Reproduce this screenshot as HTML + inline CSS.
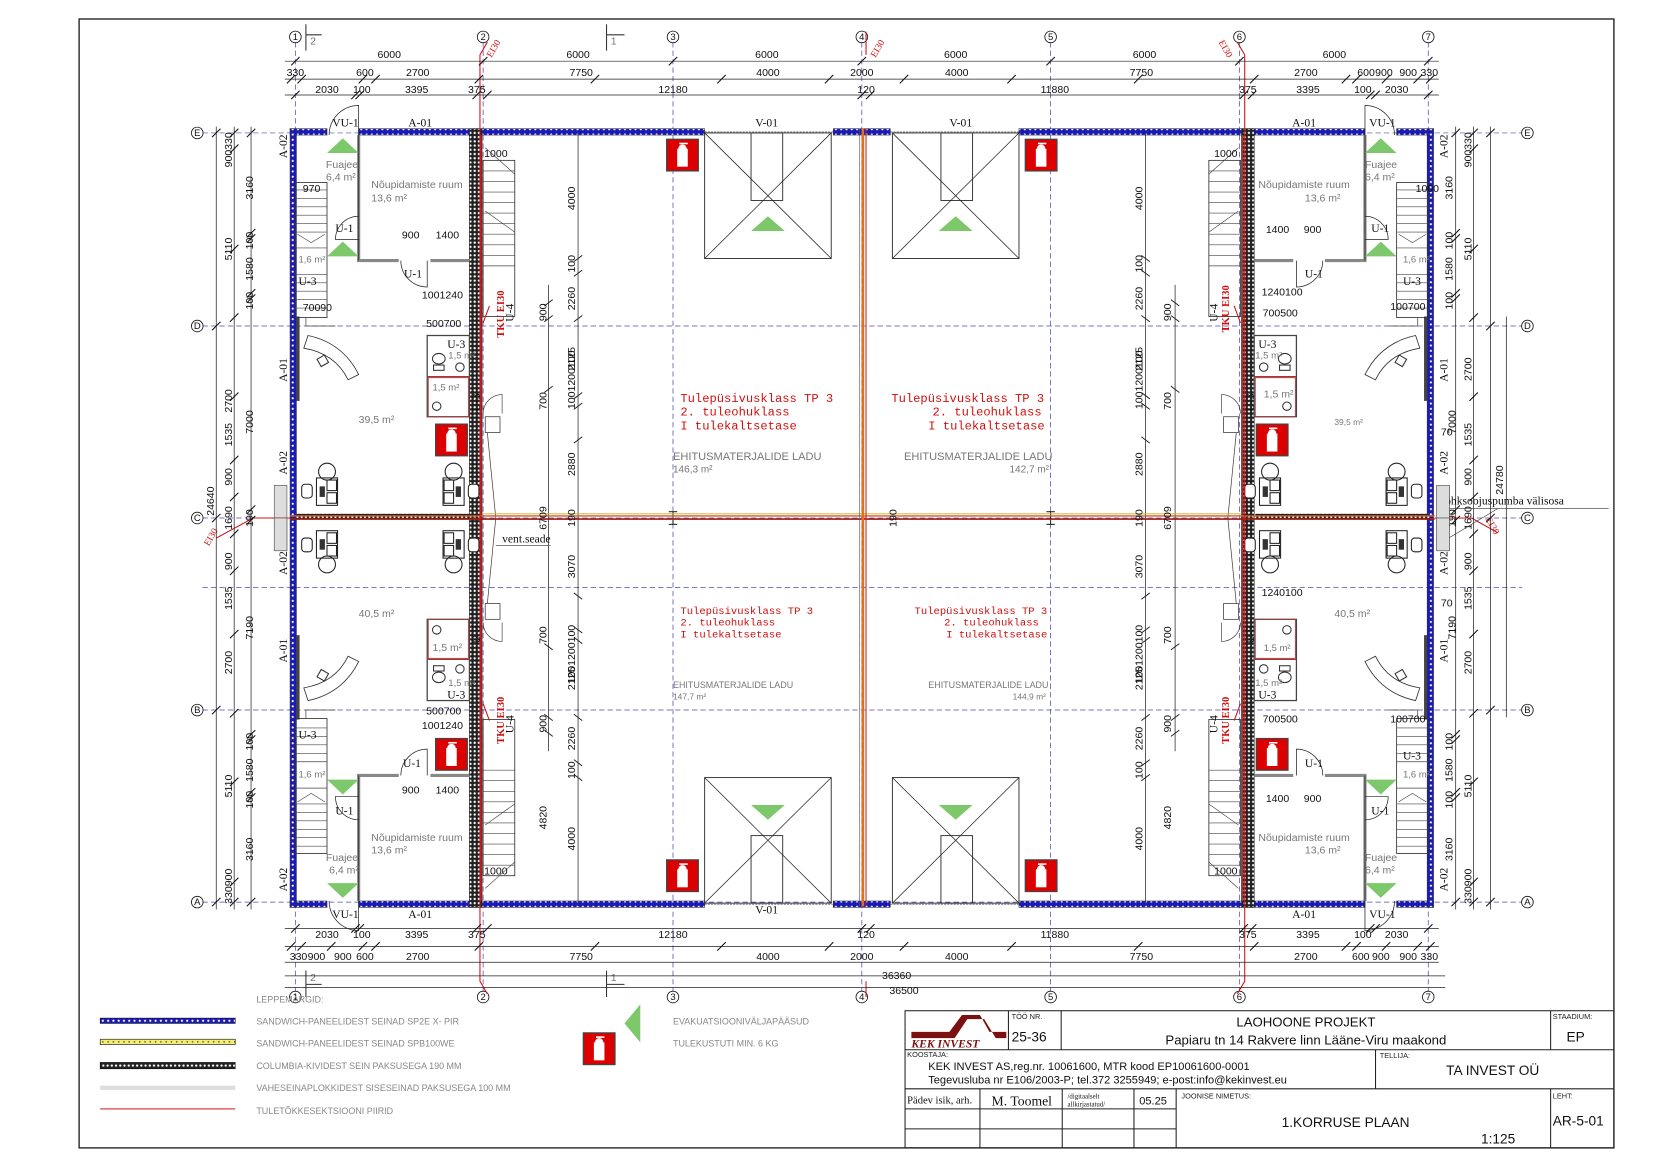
<!DOCTYPE html>
<html><head><meta charset="utf-8"><style>
html,body{margin:0;padding:0;background:#fff;}
svg{display:block;font-family:"Liberation Sans",sans-serif;}
.d{font-size:10px;fill:#111;}
.g{font-size:10px;fill:#777;}
.s,.s text{font-family:"Liberation Serif",serif;font-size:11px;fill:#111;}
.r,.r text{font-family:"Liberation Mono",monospace;font-size:11.5px;fill:#d01010;}
.rs,.rs text{font-family:"Liberation Mono",monospace;font-size:10px;fill:#d01010;}
.lg{font-size:8.5px;fill:#888;}
</style></head><body>
<svg width="1654" height="1169" viewBox="0 0 1568 1108" preserveAspectRatio="none" xmlns="http://www.w3.org/2000/svg">
<defs>
<pattern id="bl" width="5" height="5" patternUnits="userSpaceOnUse"><rect width="5" height="5" fill="#1a1ab8"/><circle cx="2.5" cy="2.5" r="1" fill="#fff"/></pattern>
<pattern id="co" width="4" height="4" patternUnits="userSpaceOnUse"><rect width="4" height="4" fill="#222"/><circle cx="2" cy="2" r="1.1" fill="#fff"/></pattern>
<pattern id="ye" width="5" height="5" patternUnits="userSpaceOnUse"><rect width="5" height="5" fill="#f4ef70"/><circle cx="2.5" cy="2.5" r="0.8" fill="#555"/></pattern>
<g id="ext"><rect x="0" y="0" width="30" height="30" fill="#d00" stroke="#444" stroke-width="1.2"/><rect x="10" y="9" width="10" height="17" fill="#fff"/><circle cx="15" cy="9" r="4" fill="#fff"/><path d="M12 4 h8" stroke="#fff" stroke-width="1.5"/></g>
<g id="desk"><rect x="0" y="0" width="20" height="26" fill="#fff" stroke="#222"/><rect x="10" y="2" width="9" height="10" fill="#fff" stroke="#222"/><rect x="10" y="14" width="9" height="10" fill="#fff" stroke="#222"/><rect x="3" y="8" width="5" height="10" fill="#333"/><rect x="-14" y="6" width="10" height="13" rx="3" fill="#fff" stroke="#222"/><circle cx="10" cy="-6" r="8" fill="none" stroke="#222"/></g>

<g id="q">
 <rect x="275" y="122" width="35" height="6" fill="url(#bl)" stroke="#333" stroke-width="0.6"/>
 <rect x="340" y="122" width="328" height="6" fill="url(#bl)" stroke="#333" stroke-width="0.6"/>
 <rect x="790" y="122" width="27" height="6" fill="url(#bl)" stroke="#333" stroke-width="0.6"/>
 <line x1="668" y1="125" x2="790" y2="125" stroke="#333" stroke-width="0.6" stroke-dasharray="2,1"/>
 <rect x="275" y="122" width="6" height="369" fill="url(#bl)" stroke="#333" stroke-width="0.6"/>
 <rect x="281" y="300" width="3" height="80" fill="#444"/>
 <rect x="260" y="460" width="12" height="31" fill="#ddd" stroke="#555" stroke-width="0.6"/>
 <rect x="445" y="122" width="12" height="369" fill="url(#co)" stroke="#222" stroke-width="0.6"/>
 <line x1="456" y1="128" x2="456" y2="491" stroke="#c22" stroke-width="1.2"/>
 <path d="M340 128 V247 H378 M408 247 H445" fill="none" stroke="#888" stroke-width="3"/>
 <path d="M340 128 V247" fill="none" stroke="#333" stroke-width="0.8"/>
 <path d="M312 128 A28 28 0 0 1 340 100 V128" fill="none" stroke="#222" stroke-width="0.7"/>
 <path d="M340 205 A22 22 0 0 0 318 227 H340" fill="none" stroke="#222" stroke-width="0.7"/>
 <path d="M380 247 A25 25 0 0 0 405 272 V247" fill="none" stroke="#222" stroke-width="0.7"/>
 <rect x="280" y="173" width="30" height="128" fill="none" stroke="#333" stroke-width="0.8"/>
 <g stroke="#444" stroke-width="0.6" fill="none">
  <line x1="280" y1="180" x2="310" y2="180"/><line x1="280" y1="188" x2="310" y2="188"/><line x1="280" y1="196" x2="310" y2="196"/><line x1="280" y1="204" x2="310" y2="204"/><line x1="280" y1="212" x2="310" y2="212"/><line x1="280" y1="220" x2="310" y2="220"/><line x1="280" y1="235" x2="310" y2="235"/><line x1="280" y1="260" x2="310" y2="260"/><line x1="280" y1="268" x2="310" y2="268"/><line x1="280" y1="276" x2="310" y2="276"/><line x1="280" y1="284" x2="310" y2="284"/><line x1="280" y1="292" x2="310" y2="292"/>
  <path d="M282 222 L295 230 L308 222"/>
 </g>
 <rect x="458" y="152" width="30" height="148" fill="none" stroke="#333" stroke-width="0.8"/>
 <g stroke="#444" stroke-width="0.6" fill="none">
  <line x1="458" y1="162" x2="488" y2="162"/><line x1="458" y1="172" x2="488" y2="172"/><line x1="458" y1="182" x2="488" y2="182"/><line x1="458" y1="192" x2="488" y2="192"/><line x1="458" y1="202" x2="488" y2="202"/><line x1="458" y1="212" x2="488" y2="212"/><line x1="458" y1="222" x2="488" y2="222"/><line x1="458" y1="232" x2="488" y2="232"/><line x1="458" y1="242" x2="488" y2="242"/><line x1="458" y1="252" x2="488" y2="252"/>
  <path d="M460 140 L488 165 M460 200 L488 220"/>
 </g>
 <polygon points="325,131 310,145 340,145" fill="#7cc86a"/>
 <polygon points="325,229 310,243 340,243" fill="#7cc86a"/>
 <polygon points="728,205 712,219 744,219" fill="#7cc86a"/>
 <rect x="405" y="318" width="40" height="77" fill="none" stroke="#444" stroke-width="1.2"/>
 <line x1="405" y1="357" x2="445" y2="357" stroke="#a33" stroke-width="1.2"/>
 <rect x="406" y="358" width="38" height="37" fill="none" stroke="#a33" stroke-width="0.8"/>
 <ellipse cx="416" cy="340" rx="6" ry="5" fill="none" stroke="#333"/>
 <rect x="411" y="346" width="10" height="5" fill="none" stroke="#333"/>
 <circle cx="436" cy="348" r="4" fill="none" stroke="#333"/>
 <circle cx="414" cy="385" r="4" fill="none" stroke="#333"/>
 <path d="M458 392 A18 18 0 0 1 476 374 V392" fill="none" stroke="#333" stroke-width="0.6"/>
 <rect x="460" y="395" width="14" height="15" fill="#fff" stroke="#333" stroke-width="0.7"/>
 <path d="M292 318 Q325 325 340 355 L330 360 Q318 335 288 330 Z" fill="#fff" stroke="#333" stroke-width="0.8"/>
 <rect x="302" y="338" width="8" height="8" fill="#fff" stroke="#333" transform="rotate(-30 306 342)"/>
 <use href="#desk" x="300" y="453"/>
 <use href="#desk" transform="translate(440,453) scale(-1,1)"/>
 <line x1="462" y1="410" x2="470" y2="491" stroke="#444" stroke-width="0.7"/>
 <rect x="668" y="126" width="120" height="119" fill="none" stroke="#333" stroke-width="0.9"/>
 <rect x="712" y="126" width="30" height="64" fill="none" stroke="#333" stroke-width="0.9"/>
 <path d="M668 126 L788 245 M788 126 L668 245" stroke="#222" stroke-width="0.7"/>
 <line x1="548" y1="126" x2="548" y2="491" stroke="#222" stroke-width="0.7"/>
 <line x1="520" y1="270" x2="520" y2="491" stroke="#222" stroke-width="0.7"/>
 <g stroke="#222" stroke-width="0.9">
  <path d="M544 248 l8 -6 M544 262 l8 -6 M544 305 l8 -6 M544 378 l8 -6 M544 388 l8 -6 M544 420 l8 -6 M516 305 l8 -6 M516 372 l8 -6 M516 290 l8 -6"/>
 </g>
 <line x1="638" y1="491" x2="638" y2="497" stroke="#222"/><line x1="634" y1="497" x2="642" y2="497" stroke="#222"/>
 <path d="M290 301 V309 H318" fill="none" stroke="#444" stroke-width="0.7"/>
</g>
</defs>

<rect x="75" y="18" width="1455" height="1070" fill="none" stroke="#222" stroke-width="1.3"/>

<g stroke="#4a4ab8" stroke-width="0.7" stroke-dasharray="5,3" fill="none">
 <line x1="280" y1="40" x2="280" y2="940"/><line x1="458" y1="40" x2="458" y2="940"/><line x1="638" y1="40" x2="638" y2="940"/><line x1="817" y1="40" x2="817" y2="940"/><line x1="996" y1="40" x2="996" y2="940"/><line x1="1175" y1="40" x2="1175" y2="940"/><line x1="1354" y1="40" x2="1354" y2="940"/>
 <line x1="192" y1="126" x2="1443" y2="126"/><line x1="192" y1="309" x2="1443" y2="309"/><line x1="192" y1="491" x2="1443" y2="491"/><line x1="192" y1="673" x2="1443" y2="673"/><line x1="192" y1="855" x2="1443" y2="855"/>
 <line x1="192" y1="557" x2="1443" y2="557"/>
</g>
<g font-size="9" fill="#111" text-anchor="middle" stroke-width="0.8">
 <g fill="#fff" stroke="#111">
  <circle cx="280" cy="35" r="5.5"/><circle cx="458" cy="35" r="5.5"/><circle cx="638" cy="35" r="5.5"/><circle cx="817" cy="35" r="5.5"/><circle cx="996" cy="35" r="5.5"/><circle cx="1175" cy="35" r="5.5"/><circle cx="1354" cy="35" r="5.5"/>
  <circle cx="280" cy="945" r="5.5"/><circle cx="458" cy="945" r="5.5"/><circle cx="638" cy="945" r="5.5"/><circle cx="817" cy="945" r="5.5"/><circle cx="996" cy="945" r="5.5"/><circle cx="1175" cy="945" r="5.5"/><circle cx="1354" cy="945" r="5.5"/>
  <circle cx="187" cy="126" r="5.5"/><circle cx="187" cy="309" r="5.5"/><circle cx="187" cy="491" r="5.5"/><circle cx="187" cy="673" r="5.5"/><circle cx="187" cy="855" r="5.5"/>
  <circle cx="1448" cy="126" r="5.5"/><circle cx="1448" cy="309" r="5.5"/><circle cx="1448" cy="491" r="5.5"/><circle cx="1448" cy="673" r="5.5"/><circle cx="1448" cy="855" r="5.5"/>
 </g>
 <text x="280" y="38">1</text><text x="458" y="38">2</text><text x="638" y="38">3</text><text x="817" y="38">4</text><text x="996" y="38">5</text><text x="1175" y="38">6</text><text x="1354" y="38">7</text>
 <text x="280" y="948">1</text><text x="458" y="948">2</text><text x="638" y="948">3</text><text x="817" y="948">4</text><text x="996" y="948">5</text><text x="1175" y="948">6</text><text x="1354" y="948">7</text>
 <text x="187" y="129">E</text><text x="187" y="312">D</text><text x="187" y="494">C</text><text x="187" y="676">B</text><text x="187" y="858">A</text>
 <text x="1448" y="129">E</text><text x="1448" y="312">D</text><text x="1448" y="494">C</text><text x="1448" y="676">B</text><text x="1448" y="858">A</text>
</g>
<path d="M290 23 V48 M290 33 H305" stroke="#333" fill="none"/><text x="294" y="42" class="g" font-size="9">2</text>
<path d="M575 23 V48 M575 33 H592" stroke="#333" fill="none"/><text x="579" y="42" class="g" font-size="9">1</text>
<path d="M290 920 V945 M290 933 H305" stroke="#333" fill="none"/><text x="294" y="930" class="g" font-size="9">2</text>
<path d="M575 920 V945 M575 933 H592" stroke="#333" fill="none"/><text x="579" y="930" class="g" font-size="9">1</text>

<use href="#q"/>
<use href="#q" transform="translate(1634,0) scale(-1,1)"/>
<use href="#q" transform="translate(0,982) scale(1,-1)"/>
<use href="#q" transform="translate(1634,982) scale(-1,-1)"/>

<use href="#ext" x="413" y="402"/><use href="#ext" x="632" y="132"/><use href="#ext" x="972" y="132"/><use href="#ext" x="1191" y="402"/>
<use href="#ext" x="413" y="700"/><use href="#ext" x="632" y="815"/><use href="#ext" x="972" y="815"/><use href="#ext" x="1191" y="700"/>

<rect x="281" y="487" width="164" height="5" fill="url(#co)"/>
<rect x="1190" y="487" width="165" height="5" fill="url(#co)"/>
<line x1="275" y1="489" x2="1360" y2="489" stroke="#d06020" stroke-width="1.3"/>
<line x1="275" y1="492" x2="1360" y2="492" stroke="#a01818" stroke-width="1.5"/>
<line x1="458" y1="487" x2="1177" y2="487" stroke="#c8b030" stroke-width="0.8"/>
<line x1="818" y1="122" x2="818" y2="859" stroke="#e07020" stroke-width="2.5"/>
<line x1="821" y1="122" x2="821" y2="859" stroke="#c22" stroke-width="1"/>
<line x1="815" y1="122" x2="815" y2="859" stroke="#555" stroke-width="0.6"/>

<g stroke="#d01010" stroke-width="1" fill="none">
 <path d="M455 52 L462 40 M455 52 V930 L462 942"/>
 <path d="M1180 52 L1173 40 M1180 52 V930 L1173 942"/>
 <path d="M821 30 V52 M821 930 V945"/>
 <path d="M205 510 L240 491 H275 M1360 491 H1395 L1420 505"/>
 <path d="M464 290 L458 306 M464 683 L458 667 M1170 290 L1176 306 M1170 683 L1176 667"/>
</g>
<g fill="#d01010" font-family="Liberation Serif,serif" font-size="9">
 <text transform="translate(466,55) rotate(-60)">EI30</text>
 <text transform="translate(830,55) rotate(-60)">EI30</text>
 <text transform="translate(1155,40) rotate(60)">EI30</text>
 <text transform="translate(198,518) rotate(-60)">EI30</text>
 <text transform="translate(1408,492) rotate(60)">EI30</text>
</g>

<g stroke="#222" stroke-width="0.7">
 <line x1="270" y1="58" x2="1364" y2="58"/>
 <line x1="270" y1="75" x2="1364" y2="75"/>
 <line x1="270" y1="90" x2="1364" y2="90"/>
 <line x1="270" y1="880" x2="1364" y2="880"/>
 <line x1="270" y1="897" x2="1364" y2="897"/>
 <line x1="270" y1="912" x2="1364" y2="912"/>
 <line x1="270" y1="925" x2="1370" y2="925"/>
 <line x1="270" y1="936" x2="1370" y2="936"/>
 <line x1="205" y1="120" x2="205" y2="862"/>
 <line x1="222" y1="120" x2="222" y2="862"/>
 <line x1="238" y1="120" x2="238" y2="862"/>
 <line x1="1380" y1="120" x2="1380" y2="862"/>
 <line x1="1397" y1="120" x2="1397" y2="862"/>
 <line x1="1413" y1="120" x2="1413" y2="862"/>
 <line x1="1428" y1="300" x2="1428" y2="680"/>
</g>
<g stroke="#111" stroke-width="1">
 <path d="M276 62 l8 -8 M454 62 l8 -8 M634 62 l8 -8 M813 62 l8 -8 M992 62 l8 -8 M1171 62 l8 -8 M1350 62 l8 -8"/>
 <path d="M272 79 l8 -8 M282 79 l8 -8 M340 79 l8 -8 M352 79 l8 -8 M450 79 l8 -8 M560 79 l8 -8 M680 79 l8 -8 M782 79 l8 -8 M853 79 l8 -8 M955 79 l8 -8 M1075 79 l8 -8 M1185 79 l8 -8 M1272 79 l8 -8 M1282 79 l8 -8 M1310 79 l8 -8 M1340 79 l8 -8 M1352 79 l8 -8"/>
 <path d="M276 94 l8 -8 M333 94 l8 -8 M337 94 l8 -8 M448 94 l8 -8 M458 94 l8 -8 M813 94 l8 -8 M821 94 l8 -8 M1175 94 l8 -8 M1183 94 l8 -8 M1295 94 l8 -8 M1300 94 l8 -8 M1350 94 l8 -8"/>
 <path d="M276 884 l8 -8 M333 884 l8 -8 M337 884 l8 -8 M448 884 l8 -8 M458 884 l8 -8 M813 884 l8 -8 M821 884 l8 -8 M1175 884 l8 -8 M1183 884 l8 -8 M1295 884 l8 -8 M1300 884 l8 -8 M1350 884 l8 -8"/>
 <path d="M272 901 l8 -8 M282 901 l8 -8 M310 901 l8 -8 M340 901 l8 -8 M352 901 l8 -8 M450 901 l8 -8 M560 901 l8 -8 M680 901 l8 -8 M782 901 l8 -8 M853 901 l8 -8 M955 901 l8 -8 M1075 901 l8 -8 M1185 901 l8 -8 M1272 901 l8 -8 M1282 901 l8 -8 M1310 901 l8 -8 M1340 901 l8 -8 M1352 901 l8 -8"/>
 <path d="M201 130 l8 -8 M201 313 l8 -8 M201 495 l8 -8 M201 677 l8 -8 M201 859 l8 -8"/>
 <path d="M218 130 l8 -8 M218 145 l8 -8 M218 240 l8 -8 M218 305 l8 -8 M218 380 l8 -8 M218 440 l8 -8 M218 475 l8 -8 M218 510 l8 -8 M218 545 l8 -8 M218 605 l8 -8 M218 680 l8 -8 M218 745 l8 -8 M218 840 l8 -8 M218 859 l8 -8"/>
 <path d="M234 130 l8 -8 M234 225 l8 -8 M234 230 l8 -8 M234 282 l8 -8 M234 287 l8 -8 M234 487 l8 -8 M234 497 l8 -8 M234 700 l8 -8 M234 705 l8 -8 M234 755 l8 -8 M234 760 l8 -8 M234 859 l8 -8"/>
 <path d="M1376 130 l8 -8 M1376 225 l8 -8 M1376 230 l8 -8 M1376 282 l8 -8 M1376 287 l8 -8 M1376 487 l8 -8 M1376 497 l8 -8 M1376 700 l8 -8 M1376 705 l8 -8 M1376 755 l8 -8 M1376 760 l8 -8 M1376 859 l8 -8"/>
 <path d="M1393 130 l8 -8 M1393 145 l8 -8 M1393 240 l8 -8 M1393 305 l8 -8 M1393 380 l8 -8 M1393 440 l8 -8 M1393 475 l8 -8 M1393 510 l8 -8 M1393 545 l8 -8 M1393 605 l8 -8 M1393 680 l8 -8 M1393 745 l8 -8 M1393 840 l8 -8 M1393 859 l8 -8"/>
 <path d="M1409 130 l8 -8 M1409 313 l8 -8 M1409 495 l8 -8 M1409 677 l8 -8 M1409 859 l8 -8"/>
</g>

<g class="d" text-anchor="middle">
 <text x="369" y="55">6000</text><text x="548" y="55">6000</text><text x="727" y="55">6000</text><text x="906" y="55">6000</text><text x="1085" y="55">6000</text><text x="1265" y="55">6000</text>
 <text x="280" y="72">330</text><text x="346" y="72">600</text><text x="396" y="72">2700</text><text x="551" y="72">7750</text><text x="728" y="72">4000</text><text x="817" y="72">2000</text><text x="907" y="72">4000</text><text x="1082" y="72">7750</text><text x="1238" y="72">2700</text><text x="1295" y="72">600</text><text x="1312" y="72">900</text><text x="1335" y="72">900</text><text x="1355" y="72">330</text>
 <text x="310" y="88">2030</text><text x="343" y="88">100</text><text x="395" y="88">3395</text><text x="452" y="88">375</text><text x="638" y="88">12180</text><text x="821" y="88">120</text><text x="1000" y="88">11880</text><text x="1183" y="88">375</text><text x="1240" y="88">3395</text><text x="1292" y="88">100</text><text x="1324" y="88">2030</text>
 <text x="310" y="889">2030</text><text x="343" y="889">100</text><text x="395" y="889">3395</text><text x="452" y="889">375</text><text x="638" y="889">12180</text><text x="821" y="889">120</text><text x="1000" y="889">11880</text><text x="1183" y="889">375</text><text x="1240" y="889">3395</text><text x="1292" y="889">100</text><text x="1324" y="889">2030</text>
 <text x="283" y="910">330</text><text x="300" y="910">900</text><text x="325" y="910">900</text><text x="346" y="910">600</text><text x="396" y="910">2700</text><text x="551" y="910">7750</text><text x="728" y="910">4000</text><text x="817" y="910">2000</text><text x="907" y="910">4000</text><text x="1082" y="910">7750</text><text x="1238" y="910">2700</text><text x="1290" y="910">600</text><text x="1309" y="910">900</text><text x="1335" y="910">900</text><text x="1355" y="910">330</text>
 <text x="850" y="928">36360</text><text x="857" y="942">36500</text>
</g>
<g class="d" text-anchor="middle">
 <text transform="translate(220,236) rotate(-90)">5110</text>
 <text transform="translate(220,380) rotate(-90)">2700</text>
 <text transform="translate(220,412) rotate(-90)">1535</text>
 <text transform="translate(220,452) rotate(-90)">900</text>
 <text transform="translate(220,491) rotate(-90)">1690</text>
 <text transform="translate(220,532) rotate(-90)">900</text>
 <text transform="translate(220,567) rotate(-90)">1535</text>
 <text transform="translate(220,628) rotate(-90)">2700</text>
 <text transform="translate(220,745) rotate(-90)">5110</text>
 <text transform="translate(220,142) rotate(-90)">900330</text>
 <text transform="translate(220,840) rotate(-90)">330900</text>
 <text transform="translate(240,178) rotate(-90)">3160</text>
 <text transform="translate(240,228) rotate(-90)">100</text>
 <text transform="translate(240,255) rotate(-90)">1580</text>
 <text transform="translate(240,285) rotate(-90)">100</text>
 <text transform="translate(240,400) rotate(-90)">7000</text>
 <text transform="translate(240,491) rotate(-90)">190</text>
 <text transform="translate(240,595) rotate(-90)">7190</text>
 <text transform="translate(240,703) rotate(-90)">100</text>
 <text transform="translate(240,730) rotate(-90)">1580</text>
 <text transform="translate(240,758) rotate(-90)">100</text>
 <text transform="translate(240,805) rotate(-90)">3160</text>
 <text transform="translate(203,475) rotate(-90)">24640</text>
 <text transform="translate(1377,178) rotate(-90)">3160</text>
 <text transform="translate(1377,228) rotate(-90)">100</text>
 <text transform="translate(1377,255) rotate(-90)">1580</text>
 <text transform="translate(1377,285) rotate(-90)">100</text>
 <text transform="translate(1380,400) rotate(-90)">7000</text>
 <text transform="translate(1380,491) rotate(-90)">190</text>
 <text transform="translate(1380,595) rotate(-90)">7190</text>
 <text transform="translate(1377,703) rotate(-90)">100</text>
 <text transform="translate(1377,730) rotate(-90)">1580</text>
 <text transform="translate(1377,758) rotate(-90)">100</text>
 <text transform="translate(1377,805) rotate(-90)">3160</text>
 <text transform="translate(1395,142) rotate(-90)">900330</text>
 <text transform="translate(1395,236) rotate(-90)">5110</text>
 <text transform="translate(1395,350) rotate(-90)">2700</text>
 <text transform="translate(1395,412) rotate(-90)">1535</text>
 <text transform="translate(1395,452) rotate(-90)">900</text>
 <text transform="translate(1395,491) rotate(-90)">1690</text>
 <text transform="translate(1395,532) rotate(-90)">900</text>
 <text transform="translate(1395,567) rotate(-90)">1535</text>
 <text transform="translate(1395,628) rotate(-90)">2700</text>
 <text transform="translate(1395,745) rotate(-90)">5110</text>
 <text transform="translate(1395,840) rotate(-90)">330900</text>
 <text transform="translate(1425,455) rotate(-90)">24780</text>
</g>
<g class="d" text-anchor="middle">
 <text transform="translate(545,188) rotate(-90)">4000</text><text transform="translate(545,250) rotate(-90)">100</text><text transform="translate(545,283) rotate(-90)">2260</text><text transform="translate(518,296) rotate(-90)">900</text><text transform="translate(545,340) rotate(-90)">2125</text><text transform="translate(545,360) rotate(-90)">1001200100</text><text transform="translate(518,380) rotate(-90)">700</text><text transform="translate(545,440) rotate(-90)">2880</text><text transform="translate(545,491) rotate(-90)">190</text><text transform="translate(518,491) rotate(-90)">6709</text>
 <text transform="translate(545,537) rotate(-90)">3070</text><text transform="translate(545,620) rotate(-90)">1001200100</text><text transform="translate(518,602) rotate(-90)">700</text><text transform="translate(545,643) rotate(-90)">2125</text><text transform="translate(518,686) rotate(-90)">900</text><text transform="translate(545,700) rotate(-90)">2260</text><text transform="translate(545,730) rotate(-90)">100</text><text transform="translate(545,795) rotate(-90)">4000</text><text transform="translate(518,775) rotate(-90)">4820</text>
 <text transform="translate(1083,188) rotate(-90)">4000</text><text transform="translate(1083,250) rotate(-90)">100</text><text transform="translate(1083,283) rotate(-90)">2260</text><text transform="translate(1110,296) rotate(-90)">900</text><text transform="translate(1083,340) rotate(-90)">2125</text><text transform="translate(1083,360) rotate(-90)">1001200100</text><text transform="translate(1110,380) rotate(-90)">700</text><text transform="translate(1083,440) rotate(-90)">2880</text><text transform="translate(1083,491) rotate(-90)">190</text><text transform="translate(1110,491) rotate(-90)">6709</text>
 <text transform="translate(1083,537) rotate(-90)">3070</text><text transform="translate(1083,620) rotate(-90)">1001200100</text><text transform="translate(1110,602) rotate(-90)">700</text><text transform="translate(1083,643) rotate(-90)">2125</text><text transform="translate(1110,686) rotate(-90)">900</text><text transform="translate(1083,700) rotate(-90)">2260</text><text transform="translate(1083,730) rotate(-90)">100</text><text transform="translate(1083,795) rotate(-90)">4000</text><text transform="translate(1110,775) rotate(-90)">4820</text>
 <text transform="translate(850,491) rotate(-90)">190</text>
</g>

<g class="s">
 <text x="315" y="120">VU-1</text><text x="387" y="120">A-01</text><text x="716" y="120">V-01</text><text x="900" y="120">V-01</text><text x="1225" y="120">A-01</text><text x="1298" y="120">VU-1</text>
 <text x="315" y="870">VU-1</text><text x="387" y="870">A-01</text><text x="716" y="866">V-01</text><text x="1225" y="870">A-01</text><text x="1298" y="870">VU-1</text>
 <text x="318" y="220">U-1</text><text x="383" y="263">U-1</text><text x="1300" y="220">U-1</text><text x="1237" y="263">U-1</text>
 <text x="382" y="727">U-1</text><text x="318" y="772">U-1</text><text x="1237" y="727">U-1</text><text x="1300" y="772">U-1</text>
 <text x="283" y="270" font-size="10">U-3</text><text x="1330" y="270" font-size="10">U-3</text><text x="283" y="700" font-size="10">U-3</text><text x="1330" y="720" font-size="10">U-3</text>
 <text x="424" y="330" font-size="10">U-3</text><text x="1193" y="330" font-size="10">U-3</text><text x="424" y="662" font-size="10">U-3</text><text x="1193" y="662" font-size="10">U-3</text>
 <text x="476" y="514" font-size="10">vent.seade</text>
 <text x="1370" y="478" font-size="9" fill="#555">õhksoojuspumba välisosa</text>
</g>
<line x1="470" y1="517" x2="522" y2="517" stroke="#333" stroke-width="0.6"/>
<line x1="1368" y1="482" x2="1525" y2="482" stroke="#333" stroke-width="0.6"/>
<path d="M1368 482 L1365 470 M1420 482 L1365 515" stroke="#333" stroke-width="0.6" fill="none"/>
<rect x="1362" y="460" width="12" height="31" fill="#ddd" stroke="#555" stroke-width="0.6"/>
<rect x="1362" y="491" width="12" height="31" fill="#ddd" stroke="#555" stroke-width="0.6"/>
<rect x="260" y="491" width="12" height="31" fill="#ddd" stroke="#555" stroke-width="0.6"/>

<g class="s">
 <text transform="translate(272,150) rotate(-90)" font-size="10">A-02</text><text transform="translate(272,362) rotate(-90)" font-size="10">A-01</text><text transform="translate(272,450) rotate(-90)" font-size="10">A-02</text><text transform="translate(272,545) rotate(-90)" font-size="10">A-02</text><text transform="translate(272,628) rotate(-90)" font-size="10">A-01</text><text transform="translate(272,845) rotate(-90)" font-size="10">A-02</text>
 <text transform="translate(1372,150) rotate(-90)" font-size="10">A-02</text><text transform="translate(1372,362) rotate(-90)" font-size="10">A-01</text><text transform="translate(1372,450) rotate(-90)" font-size="10">A-02</text><text transform="translate(1372,545) rotate(-90)" font-size="10">A-02</text><text transform="translate(1372,628) rotate(-90)" font-size="10">A-01</text><text transform="translate(1372,845) rotate(-90)" font-size="10">A-02</text>
 <text transform="translate(455,390) rotate(-90)" font-size="10">U-3</text><text transform="translate(455,610) rotate(-90)" font-size="10">U-3</text><text transform="translate(1189,390) rotate(-90)" font-size="10">U-3</text><text transform="translate(1189,610) rotate(-90)" font-size="10">U-3</text>
 <text transform="translate(487,305) rotate(-90)" font-size="10">U-4</text><text transform="translate(487,695) rotate(-90)" font-size="10">U-4</text><text transform="translate(1154,305) rotate(-90)" font-size="10">U-4</text><text transform="translate(1154,695) rotate(-90)" font-size="10">U-4</text>
</g>
<g font-family="Liberation Serif,serif" fill="#d01010" font-size="10" font-weight="bold">
 <text transform="translate(478,320) rotate(-90)">TKU EI30</text><text transform="translate(478,705) rotate(-90)">TKU EI30</text>
 <text transform="translate(1165,315) rotate(-90)">TKU EI30</text><text transform="translate(1165,705) rotate(-90)">TKU EI30</text>
</g>

<g class="g">
 <text x="309" y="159">Fuajee</text><text x="309" y="171">6,4 m²</text>
 <text x="352" y="178">Nõupidamiste ruum</text><text x="352" y="191">13,6 m²</text>
 <text x="1193" y="178">Nõupidamiste ruum</text><text x="1237" y="191">13,6 m²</text>
 <text x="1294" y="159">Fuajee</text><text x="1294" y="171">6,4 m²</text>
 <text x="309" y="816">Fuajee</text><text x="312" y="828">6,4 m²</text>
 <text x="1294" y="816">Fuajee</text><text x="1294" y="828">6,4 m²</text>
 <text x="352" y="797">Nõupidamiste ruum</text><text x="352" y="809">13,6 m²</text>
 <text x="1193" y="797">Nõupidamiste ruum</text><text x="1237" y="809">13,6 m²</text>
 <text x="340" y="401">39,5 m²</text><text x="1265" y="403" font-size="8">39,5 m²</text>
 <text x="340" y="585">40,5 m²</text><text x="1265" y="585">40,5 m²</text>
 <text x="410" y="370" font-size="9">1,5 m²</text><text x="425" y="340" font-size="9">1,5 m²</text>
 <text x="1198" y="377">1,5 m²</text><text x="1190" y="340" font-size="9">1,5 m²</text>
 <text x="410" y="617">1,5 m²</text><text x="425" y="650" font-size="9">1,5 m²</text>
 <text x="1198" y="617" font-size="9">1,5 m²</text><text x="1190" y="650" font-size="9">1,5 m²</text>
 <text x="283" y="249" font-size="9">1,6 m²</text><text x="1330" y="249" font-size="9">1,6 m²</text><text x="283" y="737" font-size="9">1,6 m²</text><text x="1330" y="737" font-size="9">1,6 m²</text>
 <text x="638" y="436" font-size="10.5">EHITUSMATERJALIDE LADU</text><text x="638" y="448" font-size="9.5">146,3 m²</text>
 <text x="857" y="436" font-size="10.5">EHITUSMATERJALIDE LADU</text><text x="957" y="448" font-size="9.5">142,7 m²</text>
 <text x="638" y="652" font-size="8.5">EHITUSMATERJALIDE LADU</text><text x="638" y="663" font-size="8">147,7 m²</text>
 <text x="880" y="652" font-size="8.5">EHITUSMATERJALIDE LADU</text><text x="960" y="663" font-size="8">144,9 m²</text>
</g>
<g class="d">
 <text x="459" y="149">1000</text><text x="1151" y="149">1000</text><text x="459" y="829">1000</text><text x="1151" y="829">1000</text>
 <text x="287" y="182">970</text><text x="381" y="226">900</text><text x="413" y="226">1400</text><text x="1200" y="221">1400</text><text x="1236" y="221">900</text>
 <text x="381" y="752">900</text><text x="413" y="752">1400</text><text x="1200" y="760">1400</text><text x="1236" y="760">900</text>
 <text x="400" y="283">1001240</text><text x="1196" y="280">1240100</text><text x="400" y="691">1001240</text><text x="1196" y="565">1240100</text>
 <text x="287" y="295">70090</text><text x="1318" y="294">100700</text><text x="1318" y="685">100700</text>
 <text x="404" y="310">500700</text><text x="1197" y="300">700500</text><text x="404" y="677">500700</text><text x="1197" y="685">700500</text>
 <text x="1342" y="182">1000</text><text x="1366" y="413">70</text><text x="1366" y="575">70</text>
</g>
<g class="r">
 <text x="645" y="381">Tulepüsivusklass TP 3</text><text x="645" y="394">2. tuleohuklass</text><text x="645" y="407">I tulekaltsetase</text>
 <text x="845" y="381">Tulepüsivusklass TP 3</text><text x="884" y="394">2. tuleohuklass</text><text x="880" y="407">I tulekaltsetase</text>
</g>
<g class="rs">
 <text x="645" y="582">Tulepüsivusklass TP 3</text><text x="645" y="593">2. tuleohuklass</text><text x="645" y="604">I tulekaltsetase</text>
 <text x="867" y="582">Tulepüsivusklass TP 3</text><text x="895" y="593">2. tuleohuklass</text><text x="897" y="604">I tulekaltsetase</text>
</g>

<text x="243" y="950" class="lg">LEPPEMÄRGID:</text>
<rect x="95" y="965" width="128" height="5" fill="url(#bl)" stroke="#111" stroke-width="0.6"/>
<rect x="95" y="985" width="128" height="5" fill="url(#ye)" stroke="#111" stroke-width="0.6"/>
<rect x="95" y="1007" width="128" height="6" fill="url(#co)" stroke="#111" stroke-width="0.6"/>
<rect x="95" y="1029" width="128" height="4" fill="#ddd"/>
<line x1="95" y1="1051" x2="223" y2="1051" stroke="#e06060" stroke-width="1.5"/>
<text x="243" y="971" class="lg">SANDWICH-PANEELIDEST SEINAD SP2E X- PIR</text>
<text x="243" y="992" class="lg">SANDWICH-PANEELIDEST SEINAD SPB100WE</text>
<text x="243" y="1013" class="lg">COLUMBIA-KIVIDEST SEIN PAKSUSEGA  190 MM</text>
<text x="243" y="1034" class="lg">VAHESEINAPLOKKIDEST SISESEINAD PAKSUSEGA 100 MM</text>
<text x="243" y="1056" class="lg">TULETÕKKESEKTSIOONI PIIRID</text>
<polygon points="607,952 607,988 592,970" fill="#7cc86a"/>
<use href="#ext" x="553" y="979"/>
<text x="638" y="971" class="lg">EVAKUATSIOONIVÄLJAPÄÄSUD</text>
<text x="638" y="992" class="lg">TULEKUSTUTI MIN. 6 KG</text>

<g stroke="#222" fill="none" stroke-width="1">
 <rect x="858" y="958" width="672" height="130"/>
 <line x1="858" y1="995" x2="1530" y2="995"/>
 <line x1="858" y1="1032" x2="1530" y2="1032"/>
 <line x1="956" y1="958" x2="956" y2="995"/>
 <line x1="1006" y1="958" x2="1006" y2="995"/>
 <line x1="1470" y1="958" x2="1470" y2="995"/>
 <line x1="1470" y1="1032" x2="1470" y2="1088"/>
 <line x1="1304" y1="995" x2="1304" y2="1032"/>
 <line x1="929" y1="1032" x2="929" y2="1088"/>
 <line x1="1007" y1="1032" x2="1007" y2="1088"/>
 <line x1="1075" y1="1032" x2="1075" y2="1088"/>
 <line x1="1115" y1="1032" x2="1115" y2="1088"/>
 <line x1="858" y1="1051" x2="1115" y2="1051"/>
 <line x1="858" y1="1070" x2="1115" y2="1070"/>
</g>
<polygon points="864,984 905,984 917,966 933,966 944,984 954,984 954,978 938,978 929,962 912,962 900,978 864,978" fill="#7a1010"/>
<text x="864" y="993" font-family="Liberation Serif,serif" font-style="italic" font-weight="bold" font-size="11" fill="#7a1010">KEK INVEST</text>
<g font-size="7" fill="#222"><text x="959" y="966">TÖÖ NR.</text><text x="1472" y="966">STAADIUM:</text><text x="860" y="1002">KOOSTAJA:</text><text x="1308" y="1003">TELLIJA:</text><text x="1120" y="1041">JOONISE NIMETUS:</text><text x="1472" y="1041">LEHT:</text></g>
<text x="959" y="987" font-size="13" fill="#111">25-36</text>
<text x="1238" y="973" font-size="12.5" fill="#111" text-anchor="middle">LAOHOONE PROJEKT</text>
<text x="1238" y="990" font-size="12.5" fill="#111" text-anchor="middle">Papiaru tn 14 Rakvere linn Lääne-Viru maakond</text>
<text x="1485" y="987" font-size="13" fill="#111">EP</text>
<text x="880" y="1014" font-size="10.5" fill="#111">KEK INVEST AS,reg.nr. 10061600, MTR kood EP10061600-0001</text>
<text x="880" y="1027" font-size="10.5" fill="#111">Tegevusluba nr E106/2003-P; tel.372 3255949; e-post:info@kekinvest.eu</text>
<text x="1371" y="1019" font-size="13" fill="#111">TA INVEST OÜ</text>
<text x="860" y="1046" font-family="Liberation Serif,serif" font-size="10" fill="#111">Pädev isik, arh.</text>
<text x="940" y="1048" font-family="Liberation Serif,serif" font-size="13" fill="#111">M. Toomel</text>
<text x="1012" y="1041" font-family="Liberation Serif,serif" font-size="6.5" fill="#111">/digitaalselt</text>
<text x="1012" y="1049" font-family="Liberation Serif,serif" font-size="6.5" fill="#111">allkirjastatud/</text>
<text x="1080" y="1047" font-size="10.5" fill="#111">05.25</text>
<text x="1215" y="1068" font-size="13" fill="#111">1.KORRUSE PLAAN</text>
<text x="1404" y="1084" font-size="13" fill="#111">1:125</text>
<text x="1472" y="1067" font-size="13" fill="#111">AR-5-01</text>
</svg>
</body></html>
